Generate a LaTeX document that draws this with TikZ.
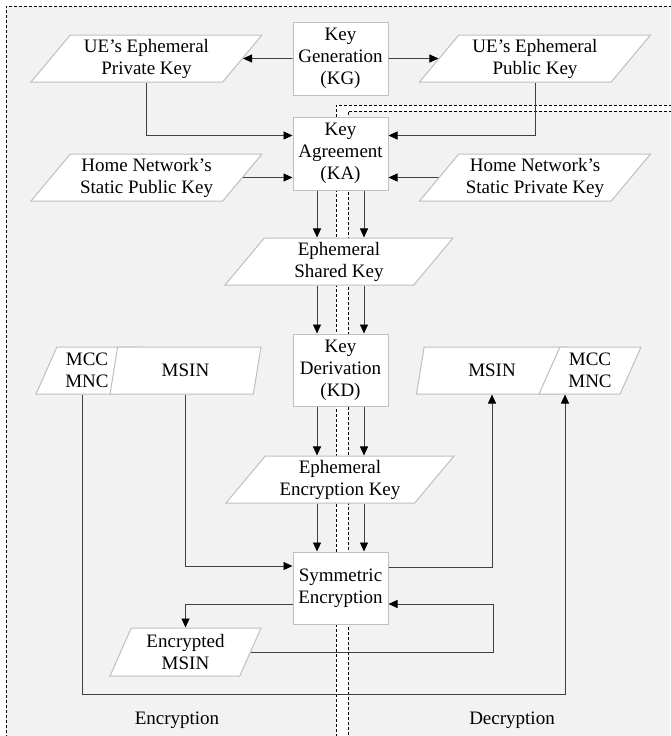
\documentclass[tikz,border=0pt]{standalone}
\usepackage{fontspec}
\setmainfont{Liberation Serif}
\usetikzlibrary{shapes.geometric,arrows.meta}
\definecolor{panelgray}{HTML}{F2F2F2}
\definecolor{boxgray}{HTML}{BFBFBF}
\definecolor{linegray}{HTML}{404040}

\begin{document}
\begin{tikzpicture}[x=1pt,y=-1pt,
  every node/.style={font=\fontsize{19}{22}\selectfont,align=center},
  proc/.style={rectangle,draw=boxgray,fill=white,line width=1pt,minimum width=95pt,minimum height=73pt,inner sep=0pt},
  data/.style={trapezium,trapezium left angle=45,trapezium right angle=135,trapezium stretches body,
    draw=boxgray,fill=white,line width=1pt,minimum width=231pt,minimum height=47pt,inner xsep=1pt,inner ysep=0pt},
  idpart/.style={data,trapezium left angle=59,trapezium right angle=121,minimum width=#1},
  arr/.style={-{Triangle[length=9pt,width=8pt,color=black]},draw=linegray,line width=0.9pt},
  region/.style={dash pattern=on 3pt off 2pt,line width=0.8pt}]
\useasboundingbox (0,0) rectangle (670,736);
% encryption and decryption panels
\fill[panelgray] (6,6) -- (670,6) -- (670,105) -- (336,105) -- (336,736) -- (6,736) -- cycle;
\fill[panelgray] (348,111) -- (670,111) -- (670,736) -- (348,736) -- cycle;
\draw[region] (6,738) -- (6,6) -- (672,6);
\draw[region] (672,105) -- (336,105) -- (336,738);
\draw[region] (672,111) -- (348,111) -- (348,738);
%
\node[proc] at (340.5,58.5) (kg) {Key\\Generation\\(KG)};
\node[data] at (146.5,58.5) (priv) {UE's Ephemeral\\Private Key};
\node[data] at (535,58.5) (pub) {UE's Ephemeral\\Public Key};
\node[proc] at (340.5,153.5) (ka) {Key\\Agreement\\(KA)};
\node[data] at (146.5,177.5) (hpub) {Home Network's\\Static Public Key};
\node[data] at (535,177.5) (hpriv) {Home Network's\\Static Private Key};
\node[data,minimum width=228pt] at (339,261.5) (shared) {Ephemeral\\Shared Key};
\node[proc,minimum height=72pt] at (340.5,370) (kd) {Key\\Derivation\\(KD)};
\node[idpart=102pt] at (87,370.5) (mcc l) {MCC\\MNC};
\node[idpart=151pt] at (185.5,370.5) (msin l) {MSIN};
\node[idpart=151pt] at (492,370.5) (msin r) {MSIN};
\node[idpart=102pt] at (590,370.5) (mcc r) {MCC\\MNC};
\node[data,minimum width=228pt] at (340,479.5) (enckey) {Ephemeral\\Encryption Key};
\node[proc,minimum height=72pt] at (340.5,588) (se) {Symmetric\\Encryption};
\node[idpart=151pt,minimum height=48pt] at (185.5,652) (emsin) {Encrypted\\MSIN};
\node at (177,720) (enc lbl) {Encryption};
\node at (512,720) (dec lbl) {Decryption};
\coordinate (id loop) at (565,694);
\coordinate (ret) at (493,604);
%
\draw[arr] (kg) -- (priv);
\draw[arr] (kg) -- (pub);
\draw[arr] (priv.south) |- ([yshift=18pt]ka.west);
\draw[arr] (pub.south) |- ([yshift=18pt]ka.east);
\draw[arr] (hpub) -- (hpub -| ka.west);
\draw[arr] (hpriv) -- (hpriv -| ka.east);
\foreach \dx in {-23.5,23.5} {
  \draw[arr] ([xshift=\dx pt]ka.south) -- ([xshift=\dx pt]ka.south |- shared.north);
  \draw[arr] ([xshift=\dx pt]kd.north |- shared.south) -- ([xshift=\dx pt]kd.north);
  \draw[arr] ([xshift=\dx pt]kd.south) -- ([xshift=\dx pt]kd.south |- enckey.north);
  \draw[arr] ([xshift=\dx pt]se.north |- enckey.south) -- ([xshift=\dx pt]se.north);
}
\draw[arr] (msin l.south) |- ([yshift=22pt]se.west);
\draw[arr] ([xshift=-5pt]mcc l.south) |- (id loop) -- (id loop |- mcc r.south);
\draw[arr] ([yshift=21pt]se.east) -| (msin r.south);
\draw[arr] ([yshift=-16pt]se.west) -| (emsin.north);
\draw[arr] (emsin.east) -| (ret) -- (ret -| se.east);

\end{tikzpicture}
\end{document}
